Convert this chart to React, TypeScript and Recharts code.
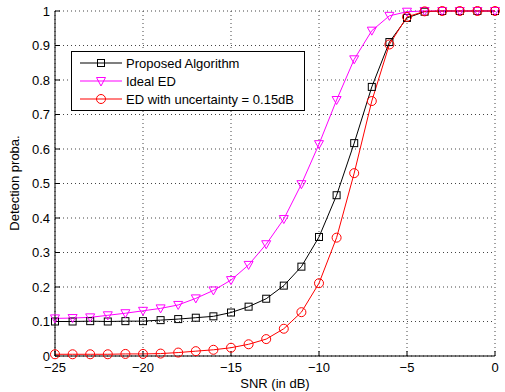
import React from "react";
import { LineChart, Line, XAxis, YAxis, CartesianGrid, Legend } from "recharts";

const snr = [-25, -24, -23, -22, -21, -20, -19, -18, -17, -16, -15, -14, -13, -12, -11, -10, -9, -8, -7, -6, -5, -4, -3, -2, -1, 0];
const proposed = [0.1, 0.1, 0.101, 0.1, 0.101, 0.101, 0.104, 0.107, 0.111, 0.115, 0.126, 0.143, 0.166, 0.204, 0.259, 0.345, 0.466, 0.617, 0.78, 0.91, 0.98, 0.998, 1, 1, 1, 1];
const idealEd = [0.109, 0.11, 0.112, 0.118, 0.124, 0.131, 0.138, 0.148, 0.167, 0.19, 0.22, 0.264, 0.324, 0.397, 0.498, 0.614, 0.742, 0.86, 0.943, 0.986, 0.998, 1, 1, 1, 1, 1];
const edUncertain = [0.005, 0.005, 0.005, 0.005, 0.006, 0.006, 0.007, 0.01, 0.014, 0.018, 0.024, 0.034, 0.049, 0.079, 0.127, 0.211, 0.343, 0.53, 0.739, 0.903, 0.983, 0.999, 1, 1, 1, 1];
const xTicks = [-25, -20, -15, -10, -5, 0];
const yTicks = [0, 0.1, 0.2, 0.3, 0.4, 0.5, 0.6, 0.7, 0.8, 0.9, 1];

const data = snr.map((s, i) => ({ snr: s, proposed: proposed[i], ideal: idealEd[i], uncertain: edUncertain[i] }));

const FONT = "'Liberation Sans', Arial, sans-serif";
const BLACK = "#000000";
const MAGENTA = "#ff00ff";
const RED = "#ff0000";

const Square = (props: any) => {
  const { cx, cy } = props;
  if (cx == null || cy == null) return null;
  return <rect x={cx - 3.5} y={cy - 3.5} width={7} height={7} fill="none" stroke={BLACK} strokeWidth={1} />;
};

const Triangle = (props: any) => {
  const { cx, cy } = props;
  if (cx == null || cy == null) return null;
  return <polygon points={`${cx - 4.5},${cy - 3.5} ${cx + 4.5},${cy - 3.5} ${cx},${cy + 4.5}`} fill="none" stroke={MAGENTA} strokeWidth={1} />;
};

const Circle = (props: any) => {
  const { cx, cy } = props;
  if (cx == null || cy == null) return null;
  return <circle cx={cx} cy={cy} r={4.5} fill="none" stroke={RED} strokeWidth={1} />;
};

const fmtX = (v: number) => (v < 0 ? "\u2212" + Math.abs(v) : String(v));
const fmtY = (v: number) => String(Math.round(v * 10) / 10);

const legendItems = [
  { name: "Proposed Algorithm", color: BLACK, marker: "square" },
  { name: "Ideal ED", color: MAGENTA, marker: "triangle" },
  { name: "ED with uncertainty = 0.15dB", color: RED, marker: "circle" },
];

const LegendBox = () => (
  <div style={{ border: "1px solid #000", background: "#fff", width: 232, padding: "2px 0", fontFamily: FONT, fontSize: 13 }}>
    {legendItems.map((it) => (
      <div key={it.name} style={{ display: "flex", alignItems: "center", height: 18 }}>
        <svg width={54} height={18} style={{ display: "block" }}>
          <line x1={8} x2={50} y1={9} y2={9} stroke={it.color} strokeWidth={1.2} />
          {it.marker === "square" && <rect x={25.5} y={5.5} width={7} height={7} fill="none" stroke={it.color} />}
          {it.marker === "triangle" && <polygon points="24.5,5.5 33.5,5.5 29,14" fill="none" stroke={it.color} />}
          {it.marker === "circle" && <circle cx={29} cy={9} r={4.5} fill="none" stroke={it.color} />}
        </svg>
        <span style={{ color: "#000", whiteSpace: "nowrap" }}>{it.name}</span>
      </div>
    ))}
  </div>
);

const YTitle = () => (
  <text x={14} y={183} transform="rotate(-90 14 183)" textAnchor="middle" dominantBaseline="central" fontFamily={FONT} fontSize={13} fill="#000">
    Detection proba.
  </text>
);

const XTitle = () => (
  <text x={275} y={383} textAnchor="middle" dominantBaseline="central" fontFamily={FONT} fontSize={13} fill="#000">
    SNR (in dB)
  </text>
);

export default function App() {
  return (
    <div style={{ position: "absolute", left: 0, top: 0, width: 505, height: 392, background: "#fff" }}>
      <LineChart width={505} height={392} data={data} margin={{ top: 11, right: 10, left: 0, bottom: 0 }}>
        <CartesianGrid strokeDasharray="1 3" stroke="#444" />
        <XAxis
          dataKey="snr"
          type="number"
          domain={[-25, 0]}
          ticks={xTicks}
          tickFormatter={fmtX}
          height={36}
          axisLine={{ stroke: BLACK }}
          tickLine={{ stroke: BLACK }}
          tickSize={-5}
          tickMargin={12}
          tick={{ fill: "#000", fontSize: 13, fontFamily: FONT }}
          label={<XTitle />}
        />
        <YAxis
          type="number"
          domain={[0, 1]}
          ticks={yTicks}
          tickFormatter={fmtY}
          width={55}
          axisLine={{ stroke: BLACK }}
          tickLine={{ stroke: BLACK }}
          tickSize={-5}
          tickMargin={10}
          tick={{ fill: "#000", fontSize: 13, fontFamily: FONT }}
          label={<YTitle />}
        />
        <Legend
          content={<LegendBox />}
          layout="horizontal"
          verticalAlign="middle"
          align="center"
          wrapperStyle={{ position: "absolute", left: 71, top: 51, width: 234 }}
        />
        <Line type="linear" dataKey="proposed" stroke={BLACK} strokeWidth={1} dot={<Square />} activeDot={false} isAnimationActive={false} />
        <Line type="linear" dataKey="ideal" stroke={MAGENTA} strokeWidth={1} dot={<Triangle />} activeDot={false} isAnimationActive={false} />
        <Line type="linear" dataKey="uncertain" stroke={RED} strokeWidth={1} dot={<Circle />} activeDot={false} isAnimationActive={false} />
      </LineChart>
    </div>
  );
}
